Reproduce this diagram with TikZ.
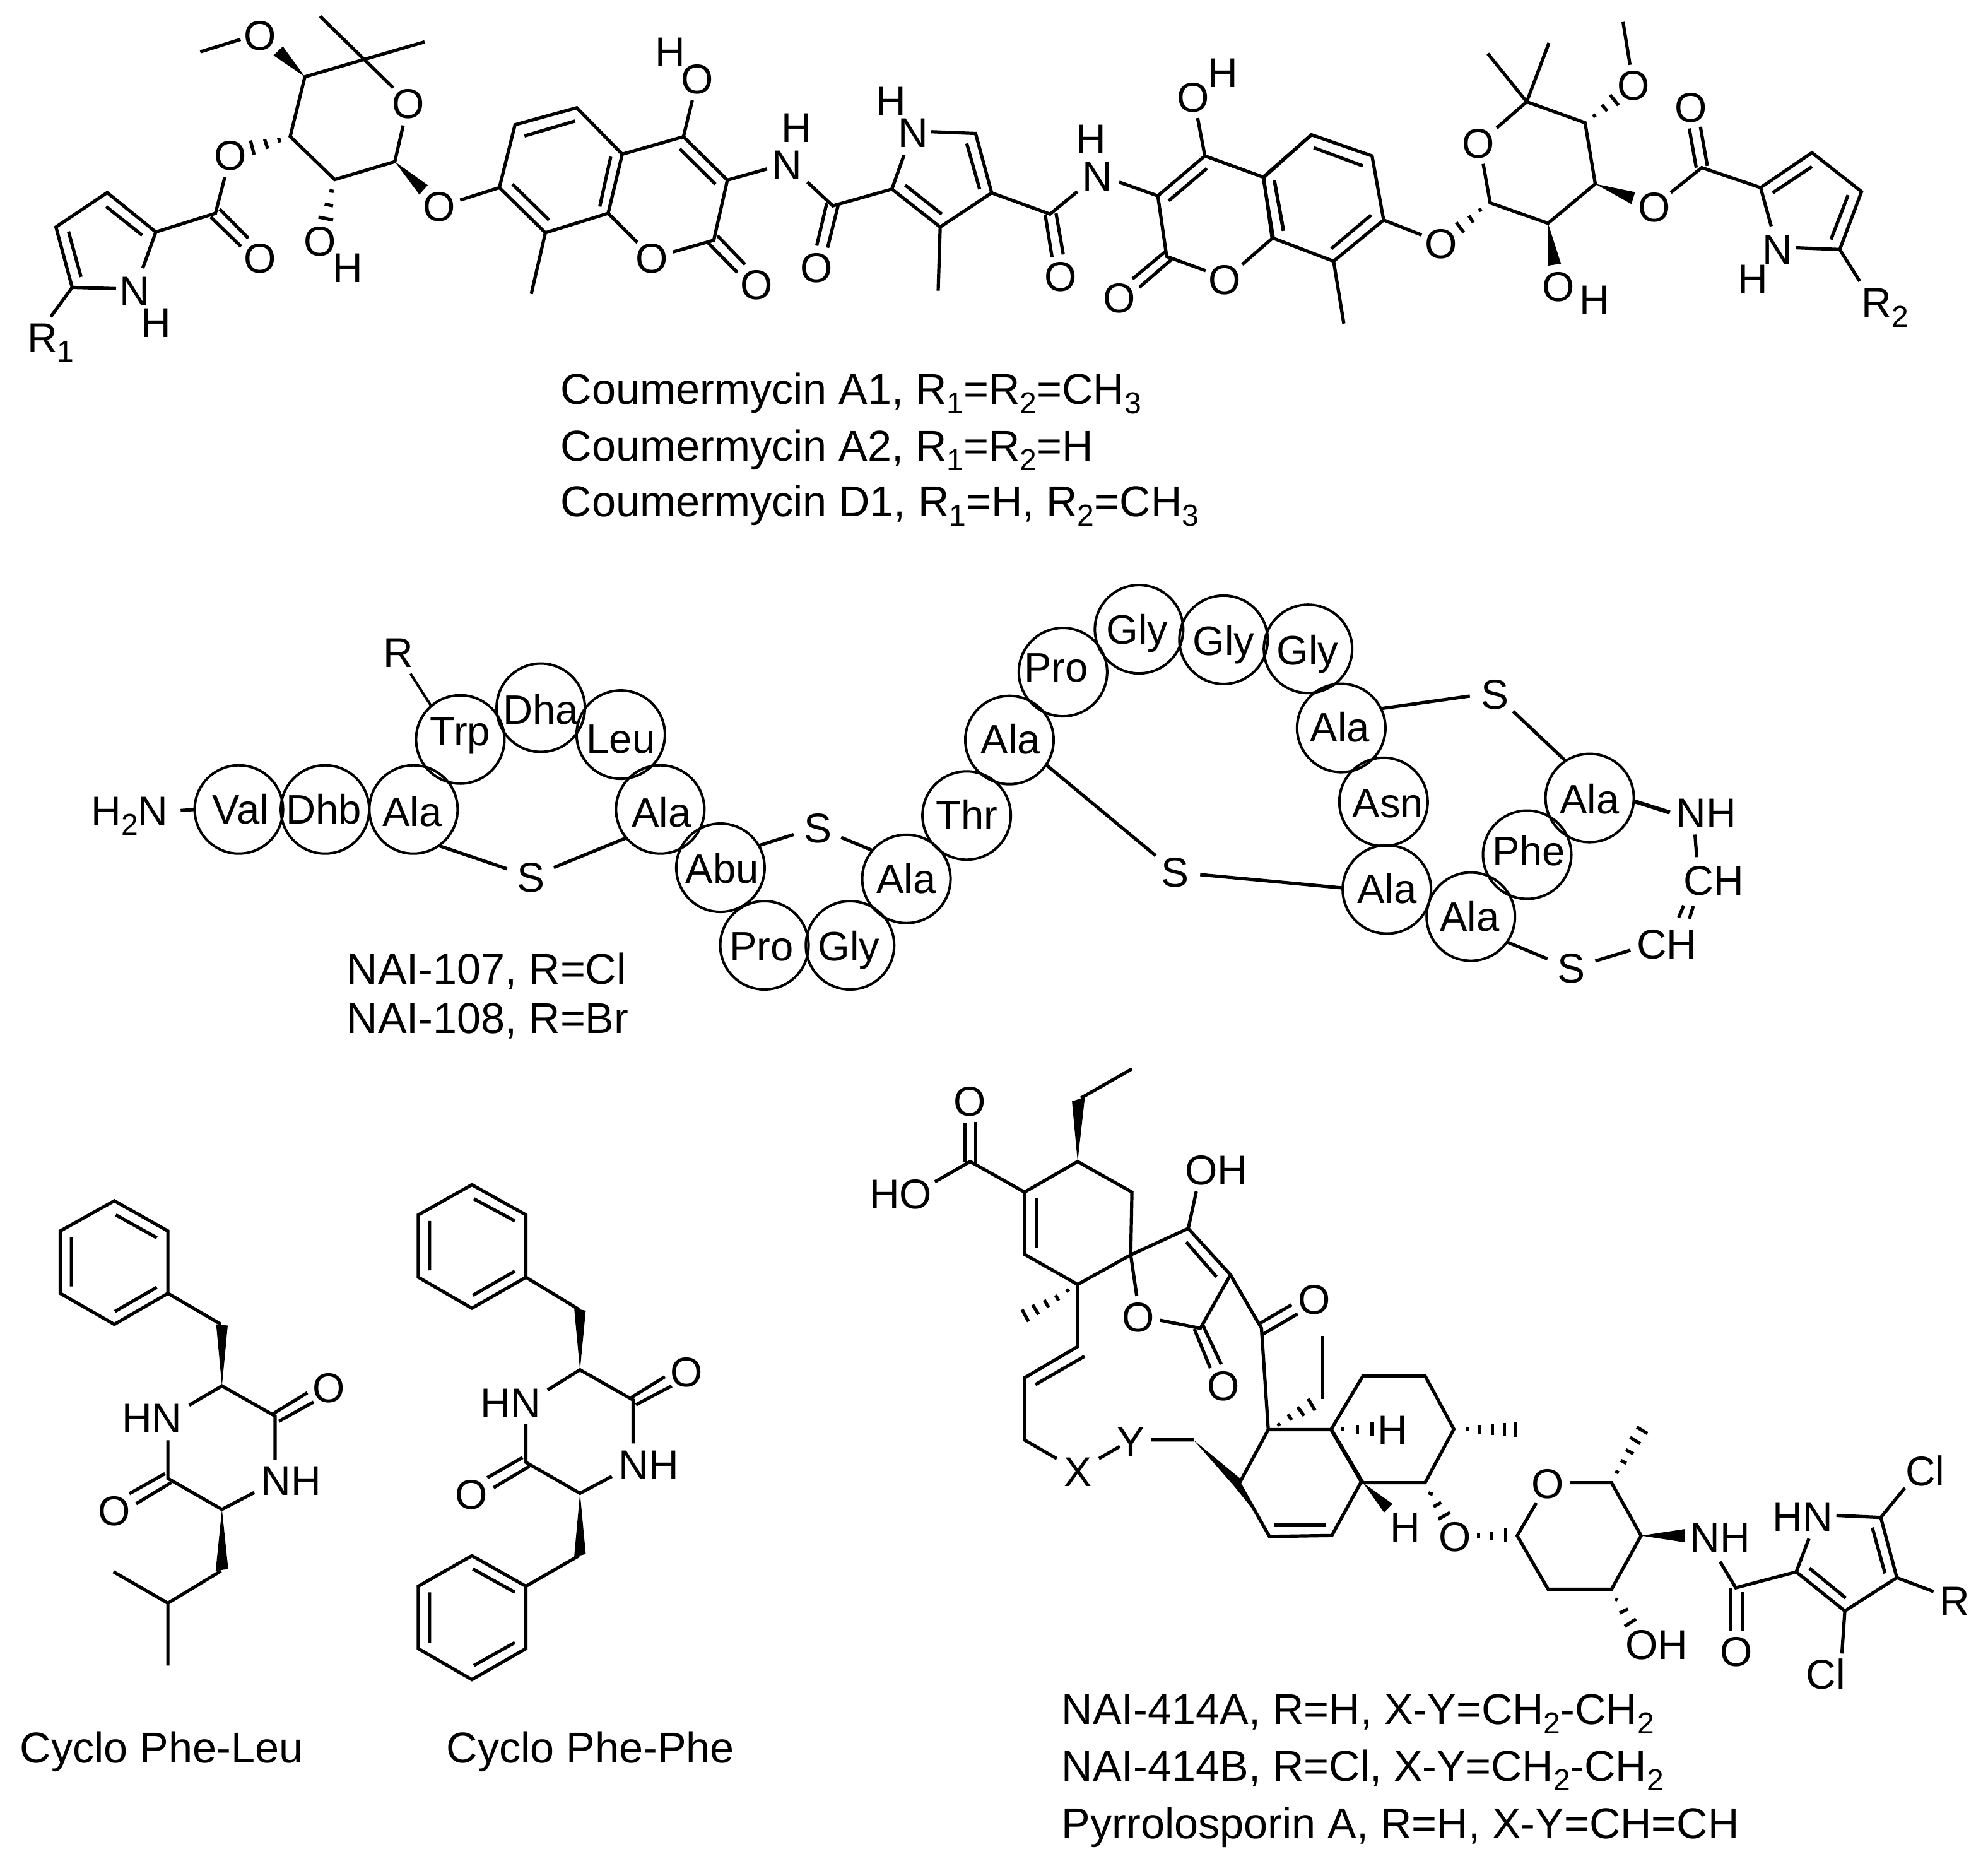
\documentclass[tikz,border=0pt]{standalone}
\usepackage{fontspec}
\setmainfont{Liberation Sans}
\newcommand\sbs[1]{\raisebox{-3.8pt}{\fontsize{12}{12}\selectfont #1}}
\tikzset{
  crop/.style n args={4}{xshift=#1*0.25pt,yshift=-#2*0.25pt,x=0.25pt/#3,y=-0.25pt/#4},
  bond/.style={line width=1.3pt,line cap=butt,line join=miter,black},
  wedge/.style={fill=black,draw=none},
  atom/.style={font=\fontsize{16.5}{16.5}\selectfont,inner sep=0pt,outer sep=2.5pt,text height=11.8pt,text depth=0pt,anchor=center},
  residue/.style={circle,draw,line width=1pt,minimum size=35pt,inner sep=0pt,outer sep=0pt},
  restext/.style={font=\fontsize{16.3}{16.3}\selectfont,inner sep=0pt,text height=11.6pt,text depth=0pt,anchor=center},
  sulfur/.style={circle,font=\fontsize{16.5}{16.5}\selectfont,inner sep=0pt,minimum size=20pt,outer sep=0pt,text height=11.8pt,text depth=0pt},
  caption/.style={font=\fontsize{17.1}{17.1}\selectfont,inner sep=0pt,anchor=base west},
}
\newcommand\atom[3]{\node[atom] (#1) at (#2) {#3};}
\newcommand\res[4]{\node[residue] (#1) at (#2) {};\node[restext] (#1t) at (#3) {#4};}
\begin{document}
\begin{tikzpicture}
\path[use as bounding box,fill=white] (0pt,0pt) rectangle (787.75pt,-734.25pt);

% ---------- Coumermycin, left part
\begin{scope}[crop={0}{0}{1.206}{2.529}]
\draw[bond] (383,208)--(460,158);
\fill[wedge] (583,308)--(523,222)--(541,186)--cycle;
\draw[bond] (612,65)--(752,352);
\draw[bond] (812,168)--(697,238)--(583,308)--(555,547)--(640,720)--(755,648)--(771,503);
\draw[bond] (533,553)--(535,571) (506,558)--(512,596) (479,563)--(486,620);
\draw[bond] (430,710)--(412,855)--(298,930);
\draw[bond] (420,838)--(475,955) (403,870)--(461,988);
\draw[bond] (298,930)--(205,772)--(107,910)--(138,1152)--(222,1157);
\draw[bond] (298,930)--(273,1075) (272,943)--(203,828) (155,1110)--(131,928) (138,1152)--(97,1270);
\draw[bond] (630,765)--(638,767) (621,818)--(637,825) (609,870)--(637,882);
\fill[wedge] (755,648)--(818,742)--(802,780)--cycle;
\draw[bond] (880,802)--(955,752);
\draw[bond] (955,752)--(985,500)--(1103,432)--(1190,618)--(1163,855)--(1043,933)--cycle;
\draw[bond] (1003,545)--(1100,485) (1168,628)--(1147,828) (1050,882)--(980,738);
\draw[bond] (1043,933)--(1016,1178) (1163,855)--(1219,972);
\draw[bond] (1287,1010)--(1365,963)--(1391,722)--(1307,548)--(1190,618);
\draw[bond] (1300,597)--(1368,738) (1307,548)--(1324,402) (1391,722)--(1467,677);
\draw[bond] (1372,945)--(1425,1060) (1355,975)--(1410,1092);
\atom{a1}{497,142}{O}\atom{a2}{781,415}{O}\atom{a3}{440,622}{O}\atom{a4}{497,1035}{O}
\atom{a5}{257,1165}{N}\atom{a6}{298,1293}{H}
\node[atom,anchor=base west,outer sep=0pt] (a7) at (52,1413) {R\sbs{1}};
\atom{a8}{612,965}{O}\atom{a9}{665,1073}{H}\atom{a10}{840,828}{O}\atom{a11}{1247,1035}{O}
\atom{a12}{1334,315}{O}\atom{a13}{1282,208}{H}\atom{a14}{1505,660}{N}\atom{a15}{1523,510}{H}\atom{a16}{1447,1140}{O}
\end{scope}

% ---------- Coumermycin, middle
\begin{scope}[crop={1100}{0}{1.568}{2.529}]
\draw[bond] (282,730)--(345,825)--(492,758)--(612,910)--(740,773)--(700,535)--(590,528);
\draw[bond] (330,815)--(305,985) (358,825)--(332,993);
\draw[bond] (492,758)--(522,622) (525,742)--(616,858) (710,758)--(678,575) (612,910)--(607,1165);
\draw[bond] (740,773)--(885,858)--(953,768);
\draw[bond] (873,860)--(890,1030) (900,855)--(918,1020);
\draw[bond] (1057,730)--(1153,785)--(1270,625)--(1415,710)--(1440,952)--(1363,1060);
\draw[bond] (1272,1085)--(1175,1028)--(1153,785);
\draw[bond] (1180,805)--(1275,675) (1270,625)--(1252,473);
\draw[bond] (1172,1008)--(1090,1118) (1187,1040)--(1107,1152);
\draw[bond] (1443,725)--(1465,925);
\draw[bond] (1415,710)--(1535,540);
\atom{b1}{304,1073}{O}\atom{b2}{545,532}{N}\atom{b3}{490,405}{H}\atom{b4}{912,1108}{O}
\atom{b5}{1003,705}{N}\atom{b6}{987,555}{H}\atom{b7}{1320,1120}{O}\atom{b8}{1241,388}{O}\atom{b9}{1315,290}{H}\atom{b10}{1057,1193}{O}
\end{scope}

% ---------- Coumermycin, right part
\begin{scope}[crop={2000}{0}{1.362}{2.529}]
\draw[bond] (107,540)--(238,625)--(263,882)--(155,1047)--(22,953)--(4,712)--cycle;
\draw[bond] (112,592)--(218,665) (236,862)--(150,997) (27,723)--(47,925);
\draw[bond] (155,1047)--(177,1297) (263,882)--(345,942);
\draw[bond] (470,835)--(473,848) (447,865)--(457,892) (420,892)--(436,932);
\draw[bond] (478,657)--(493,813)--(618,895)--(720,737)--(698,492)--(572,408)--(507,513);
\draw[bond] (488,215)--(572,408)--(620,172);
\draw[bond] (716,458)--(720,470) (734,420)--(746,445) (752,380)--(770,422) (795,260)--(780,88);
\fill[wedge] (720,737)--(806,770)--(798,818)--cycle;
\draw[bond] (883,772)--(950,672)--(1077,752)--(1188,612)--(1295,768)--(1248,1000)--(1153,993);
\draw[bond] (923,515)--(938,672) (947,508)--(962,665);
\draw[bond] (1077,752)--(1100,907) (1103,773)--(1188,668) (1266,782)--(1229,960) (1248,1000)--(1291,1127);
\fill[wedge] (618,895)--(618,1065)--(646,1057)--cycle;
\atom{c1}{387,975}{O}\atom{c2}{468,573}{O}\atom{c3}{802,342}{O}\atom{c4}{847,830}{O}\atom{c5}{927,430}{O}
\atom{c6}{1113,998}{N}\atom{c7}{1060,1118}{H}
\node[atom,anchor=base west,outer sep=0pt] (c8) at (1295,1272) {R\sbs{2}};
\atom{c9}{640,1148}{O}\atom{c10}{718,1200}{H}
\end{scope}

% ---------- Captions
\begin{scope}[x=0.25pt,y=-0.25pt]
\node[caption] (t1) at (888,640) {Coumermycin A1, R\sbs{1}=R\sbs{2}=CH\sbs{3}};
\node[caption] (t2) at (888,730) {Coumermycin A2, R\sbs{1}=R\sbs{2}=H};
\node[caption] (t3) at (888,818) {Coumermycin D1, R\sbs{1}=H, R\sbs{2}=CH\sbs{3}};
\node[caption] (t4) at (549,1559) {NAI-107, R=Cl};
\node[caption] (t5) at (549,1637) {NAI-108, R=Br};
\node[caption] (t6) at (31,2793) {Cyclo Phe-Leu};
\node[caption] (t7) at (707,2793) {Cyclo Phe-Phe};
\node[caption] (t8) at (1682,2732) {NAI-414A, R=H, X-Y=CH\sbs{2}-CH\sbs{2}};
\node[caption] (t9) at (1682,2822) {NAI-414B, R=Cl, X-Y=CH\sbs{2}-CH\sbs{2}};
\node[caption] (t10) at (1682,2913) {Pyrrolosporin A, R=H, X-Y=CH=CH};
\end{scope}

% ---------- Peptide, left part
\begin{scope}[crop={100}{900}{1.12}{2.09}]
\res{val}{312,800}{315,800}{Val}
\res{dhb}{465,800}{463,800}{Dhb}
\res{alaA}{622,800}{620,808}{Ala}
\res{trp}{705,568}{705,540}{Trp}
\res{dha}{848,463}{848,469}{Dha}
\res{leu}{990,552}{990,566}{Leu}
\res{alaB}{1060,800}{1062,810}{Ala}
\res{abu}{1167,993}{1170,995}{Abu}
\res{proA}{1245,1250}{1240,1252}{Pro}
\res{glyA}{1397,1250}{1395,1253}{Gly}
\res{alaC}{1497,1030}{1497,1028}{Ala}
\atom{nh2}{118,805}{H\sbs{2}N}
\atom{rr}{595,280}{R}
\node[sulfur] (s1) at (830,1025) {S};
\node[sulfur] (s2) at (1340,860) {S};
\draw[bond,shorten <=2.5pt] (nh2.east)--(val.180);
\draw[bond,line width=1pt] (rr.-60)--(trp.131);
\draw[bond] (alaA.-55)--(s1.160);
\draw[bond] (s1.23)--(alaB.220);
\draw[bond] (abu.30)--(s2.196);
\draw[bond] (s2.-23)--(alaC.140);
\end{scope}

% ---------- Peptide, right part
\begin{scope}[crop={1450}{900}{1.12}{2.09}]
\res{thr}{92,820}{92,818}{Thr}
\res{alaD}{168,570}{170,568}{Ala}
\res{proB}{263,345}{251,328}{Pro}
\res{glyB}{398,203}{395,204}{Gly}
\res{glyC}{548,238}{548,242}{Gly}
\res{glyD}{698,268}{697,272}{Gly}
\res{alaE}{757,530}{755,528}{Ala}
\res{asn}{832,775}{840,778}{Asn}
\res{alaF}{838,1065}{838,1062}{Ala}
\res{alaG}{987,1155}{985,1155}{Ala}
\res{phe}{1087,950}{1090,938}{Phe}
\res{alaH}{1198,762}{1198,765}{Ala}
\node[sulfur] (s3) at (462,1007) {S};
\node[sulfur] (s4) at (1030,417) {S};
\node[sulfur] (s5) at (1165,1325) {S};
\atom{nh}{1405,810}{NH}
\atom{chA}{1418,1035}{CH}
\atom{chB}{1335,1245}{CH}
\draw[bond] (alaD.-34)--(s3.140);
\draw[bond] (s3.-6)--(alaF.178);
\draw[bond] (alaE.26)--(s4.185);
\draw[bond] (s4.-44)--(alaH.123);
\draw[bond,line width=1.6pt] (alaH.-4)--(nh.west);
\coordinate (nhA) at (1385,883);\coordinate (nhB) at (1388,958);
\draw[bond] (nhA)--(nhB);
\coordinate (dbA) at (1365,1118);\coordinate (dbB) at (1356,1158);
\coordinate (dbC) at (1382,1120);\coordinate (dbD) at (1375,1162);
\draw[bond] (dbA)--(dbB) (dbC)--(dbD);
\draw[bond] (alaG.-35)--(s5.159);
\draw[bond] (s5.16)--(chB.190);
\end{scope}

% ---------- Pyrrolosporin, macrocycle
\begin{scope}[crop={1300}{1680}{1.568}{1.96}]
\draw[bond] (360,195)--(360,315) (387,193)--(387,322);
\draw[bond] (285,378)--(373,315)--(508,410)--(640,315)--(775,410)--(772,605)--(640,697)--(508,603)--(508,410);
\draw[bond] (537,428)--(537,585);
\fill[wedge] (640,315)--(626,128)--(658,115)--cycle;
\draw[bond] (648,118)--(775,27);
\draw[bond] (787,733)--(772,605)--(915,523)--(1020,667)--(945,833)--(845,808);
\draw[bond] (910,565)--(985,673) (915,523)--(935,408);
\draw[bond] (930,835)--(970,957) (950,820)--(997,945);
\draw[bond] (1020,667)--(1097,833)--(1114,1148);
\draw[bond] (1090,820)--(1172,760) (1100,852)--(1187,788);
\draw[bond] (612,712)--(618,720) (585,730)--(593,747) (557,745)--(568,768) (528,760)--(543,790) (502,775)--(518,812);
\draw[bond] (640,697)--(640,890)--(508,987)--(508,1180)--(588,1238);
\draw[bond] (657,920)--(535,1008);
\draw[bond] (693,1238)--(745,1200) (823,1180)--(930,1180);
\fill[wedge] (928,1180)--(1046,1302)--(1042,1320)--(1075,1395)--(1030,1325)--cycle;
\draw[bond] (1042,1315)--(1114,1148)--(1270,1148)--(1345,1310)--(1272,1477)--(1117,1480)--cycle;
\draw[bond] (1130,1445)--(1257,1445);
\draw[bond] (1138,1128)--(1142,1136) (1163,1100)--(1172,1118) (1187,1078)--(1203,1105) (1213,1052)--(1230,1088);
\draw[bond] (1249,1053)--(1249,857);
\atom{d1}{372,127}{O}\atom{d2}{200,415}{HO}\atom{d3}{790,797}{O}\atom{d4}{985,340}{OH}
\atom{d5}{1003,1012}{O}\atom{d6}{1228,742}{O}\atom{d7}{640,1278}{X}\atom{d8}{773,1185}{Y}
\end{scope}

% ---------- Pyrrolosporin, right part
\begin{scope}[crop={2100}{2000}{1.492}{2.178}]
\draw[bond] (15,577)--(90,393)--(237,393)--(305,577)--(237,762)--(90,762)--cycle;
\draw[bond] (42,568)--(42,585) (77,563)--(77,595) (112,552)--(112,602);
\fill[wedge] (90,762)--(160,835)--(140,865)--cycle;
\draw[bond] (337,568)--(337,585) (365,563)--(365,592) (396,560)--(396,597) (425,555)--(425,600) (452,552)--(452,603);
\draw[bond] (245,797)--(255,802) (257,845)--(275,830) (268,888)--(296,865);
\draw[bond] (363,938)--(363,955) (395,930)--(395,962) (428,920)--(428,968);
\draw[bond] (500,832)--(455,945)--(528,1130)--(678,1130)--(748,945)--(678,762)--(580,762);
\draw[bond] (687,722)--(695,728) (700,685)--(713,695) (712,648)--(730,662) (722,605)--(746,627) (738,570)--(763,592);
\fill[wedge] (748,945)--(852,922)--(852,968)--cycle;
\draw[bond] (935,1035)--(972,1125)--(1115,1070)--(1230,1205)--(1353,1090)--(1315,882)--(1210,875);
\draw[bond] (960,1125)--(960,1272) (987,1140)--(987,1272);
\draw[bond] (1115,1070)--(1145,955) (1146,1057)--(1232,1160) (1325,1075)--(1295,917);
\draw[bond] (1315,882)--(1372,780) (1353,1090)--(1440,1138) (1230,1205)--(1223,1352);
\draw[bond] (687,1163)--(692,1168) (697,1212)--(717,1198) (709,1258)--(736,1233);
\atom{e1}{160,580}{H}\atom{e2}{190,915}{H}\atom{e3}{308,948}{O}\atom{e4}{527,765}{O}\atom{e5}{935,950}{NH}
\atom{e6}{973,1345}{O}\atom{e7}{1130,878}{HN}\atom{e8}{1420,722}{Cl}\atom{e9}{1490,1170}{R}\atom{e10}{1185,1423}{Cl}\atom{e11}{785,1320}{OH}
\end{scope}

% ---------- Cyclo dipeptides
\begin{scope}[crop={0}{1820}{1.307}{1.568}]
\draw[bond] (237,130)--(348,205)--(348,360)--(237,437)--(125,360)--(125,205)--cycle;
\draw[bond] (240,165)--(325,222) (325,345)--(238,405) (148,220)--(148,343);
\draw[bond] (348,360)--(458,437);
\fill[wedge] (460,590)--(448,437)--(472,440)--cycle;
\draw[bond] (392,638)--(460,590)--(570,665)--(570,773);
\draw[bond] (527,855)--(460,897)--(348,820)--(348,725);
\draw[bond] (565,660)--(637,607) (578,678)--(650,630) (342,808)--(268,858) (355,830)--(282,883);
\fill[wedge] (460,897)--(447,1050)--(473,1045)--cycle;
\draw[bond] (458,1050)--(348,1130)--(235,1052) (348,1130)--(348,1285);
\atom{f1}{603,825}{NH}\atom{f2}{315,670}{HN}\atom{f3}{682,595}{O}\atom{f4}{237,900}{O}
\draw[bond] (978,90)--(1090,165)--(1090,320)--(978,397)--(867,320)--(867,165)--cycle;
\draw[bond] (982,125)--(1067,180) (1067,305)--(980,365) (890,180)--(890,303);
\draw[bond] (1090,320)--(1200,400);
\fill[wedge] (1202,550)--(1190,397)--(1214,403)--cycle;
\draw[bond] (1135,600)--(1202,550)--(1312,625)--(1312,733);
\draw[bond] (1268,815)--(1202,857)--(1090,780)--(1090,685);
\draw[bond] (1307,620)--(1378,567) (1318,637)--(1392,590) (1083,768)--(1010,818) (1097,790)--(1023,843);
\fill[wedge] (1202,857)--(1190,1015)--(1214,1008)--cycle;
\draw[bond] (1200,1012)--(1090,1088);
\draw[bond] (1090,1088)--(978,1012)--(867,1088)--(867,1243)--(978,1320)--(1090,1243)--cycle;
\draw[bond] (980,1045)--(1067,1103) (890,1103)--(890,1228) (982,1285)--(1067,1228);
\atom{g1}{1345,785}{NH}\atom{g2}{1058,632}{HN}\atom{g3}{1423,555}{O}\atom{g4}{977,860}{O}
\end{scope}
\end{tikzpicture}
\end{document}
